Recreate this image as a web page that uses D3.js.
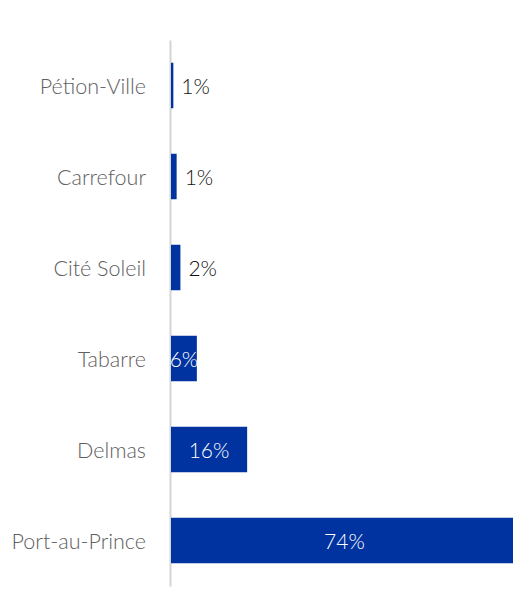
<!DOCTYPE html>
<html>
<head>
<meta charset="utf-8">
<script src="https://cdn.jsdelivr.net/npm/d3@7"></script>
<style>
  html, body { margin: 0; padding: 0; background: #fff; }
  svg text { font-family: Lato, "Open Sans", sans-serif; font-weight: 300; }
</style>
</head>
<body>
<div id="chart"></div>
<script>
const communes = ['Pétion-Ville', 'Carrefour', 'Cité Soleil', 'Tabarre', 'Delmas', 'Port-au-Prince']
const shares = [0.5, 1.2, 2.0, 5.5, 16.2, 73.8]
const shareLabels = ['1%', '1%', '2%', '6%', '16%', '74%']

const width = 513, height = 592
const margin = {top: 40, left: 171}
const pxPerPercent = 4.7

const data = communes.map((c, i) => ({name: c, value: shares[i], label: shareLabels[i]}))

const svg = d3.select('#chart').append('svg')
    .attr('width', width)
    .attr('height', height)

// x: percentage -> pixels; wider than the window, the big bar is cut off
const xScale = d3.scaleLinear()
    .domain([0, 100])
    .range([margin.left, margin.left + 100 * pxPerPercent])

const yScale = d3.scaleBand()
    .domain(communes)
    .range([margin.top, margin.top + 546])
    .paddingInner(0.5)
    .paddingOuter(0.25)

// Category axis, no ticks, only the labels and a light line
const yAxis = d3.axisLeft(yScale).tickSize(0).tickPadding(24)
const axisG = svg.append('g')
    .attr('transform', `translate(${margin.left - 1}, 0)`)
    .call(yAxis)
axisG.select('.domain')
    .attr('stroke', '#d4d4d4')
    .attr('stroke-width', 2)
axisG.selectAll('text')
    .attr('font-size', 21.5)
    .attr('fill', '#606060')
    .attr('font-family', 'Lato, sans-serif')
    .attr('dy', '0.4em')

// Bars
svg.selectAll('.bar').data(data).enter().append('rect')
    .attr('class', 'bar')
    .attr('x', xScale(0))
    .attr('y', d => yScale(d.name))
    .attr('width', d => xScale(d.value) - xScale(0))
    .attr('height', yScale.bandwidth())
    .attr('fill', '#0033a0')

// Value labels: inside (white, centred) for bars wide enough, outside otherwise
const inside = d => d.value >= 5
svg.selectAll('.valueLabel').data(data).enter().append('text')
    .attr('class', 'valueLabel')
    .attr('x', d => inside(d) ? (xScale(0) + xScale(d.value)) / 2 : xScale(d.value) + 8)
    .attr('y', d => yScale(d.name) + yScale.bandwidth() / 2)
    .attr('dy', '0.4em')
    .attr('text-anchor', d => inside(d) ? 'middle' : 'start')
    .attr('font-size', 21)
    .attr('fill', d => inside(d) ? '#ffffff' : '#111111')
    .text(d => d.label)
</script>
</body>
</html>
